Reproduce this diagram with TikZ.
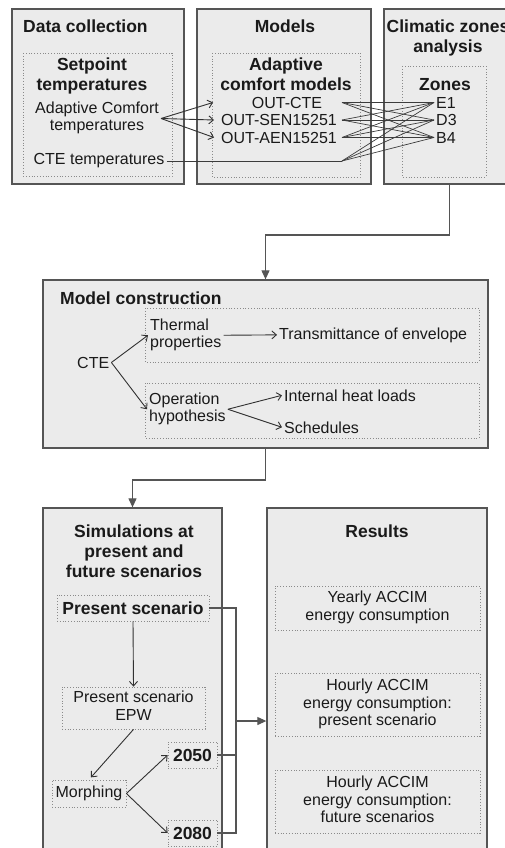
\documentclass[tikz,border=0pt]{standalone}
\usepackage{fontspec}
\setmainfont{Liberation Sans}
\usetikzlibrary{arrows.meta,calc}
\definecolor{boxfill}{HTML}{EBEBEB}
\definecolor{boxline}{HTML}{555555}
\definecolor{dotline}{HTML}{8A8A8A}
\definecolor{ink}{HTML}{1A1A1A}
\newcommand\txtN{\fontsize{16}{17.5}\selectfont}
\newcommand\txtB{\fontsize{17.5}{20}\selectfont\bfseries}
\begin{document}
\begin{tikzpicture}[x=1pt,y=-1pt,
 bigbox/.style={draw=boxline, fill=boxfill, line width=1.3pt, inner sep=0pt},
 dotbox/.style={draw=dotline, line width=0.8pt, dash pattern=on 0.8pt off 2pt},
 tn/.style={font=\txtN, text=ink, inner sep=2pt},
 tb/.style={font=\txtB, text=ink, inner sep=2pt},
 ml/.style={align=center},
 arr/.style={draw=ink!90, line width=0.9pt, -{Straight Barb[length=4.5pt,width=8pt]}},
 cross/.style={draw=ink!85, line width=0.7pt},
 conn/.style={draw=boxline, line width=1.1pt},
 connarr/.style={conn, -{Triangle[length=9pt,width=8pt]}},
]
\useasboundingbox (0,0) rectangle (505,848);
\clip (0,0) rectangle (505,848);

% ---------- big boxes ----------
\node[bigbox, minimum width=172pt, minimum height=175pt] (b1) at (98,96.5) {};
\node[bigbox, minimum width=174pt, minimum height=175pt] (b2) at (284,96.5) {};
\node[bigbox, minimum width=131pt, minimum height=175pt] (b3) at (449.5,96.5) {};
\node[bigbox, minimum width=445pt, minimum height=168pt] (b4) at (265.5,364) {};
\node[bigbox, minimum width=179pt, minimum height=352pt] (b5) at (132.5,684) {};
\node[bigbox, minimum width=220pt, minimum height=352pt] (b6) at (377,684) {};

% ---------- dotted containers ----------
\draw[dotbox] (23,53) rectangle (172,176);
\draw[dotbox] (212,53) rectangle (360,177);
\draw[dotbox] (402,66) rectangle (486,177);
\draw[dotbox] (145,308) rectangle (479,362);
\draw[dotbox] (145,383) rectangle (479,438);

% ---------- top row texts ----------
\node[tb, anchor=base west] (h1) at (21,33) {Data collection};
\node[tb, anchor=base] (h2) at (285,33) {Models};
\node[tb, ml] (h3) at (448,39) {\strut Climatic zones\\\strut analysis};

\node[tb, ml] (setp) at (92,77) {\strut Setpoint\\\strut temperatures};
\node[tn, ml] (act) at (97,118.5) {\strut Adaptive Comfort\\\strut temperatures};
\node[tn] (ctet) at (99,161) {CTE temperatures};

\node[tb, ml] (acm) at (286,77) {\strut Adaptive\\\strut comfort models};
\node[tn] (octe) at (287,102.5) {OUT-CTE};
\node[tn] (osen) at (279,120) {OUT-SEN15251};
\node[tn] (oaen) at (279,137.5) {OUT-AEN15251};

\node[tb, anchor=base] (zones) at (445,91) {Zones};
\node[tn, anchor=west] (zE) at (434,102.5) {E1};
\node[tn, anchor=west] (zD) at (434,120) {D3};
\node[tn, anchor=west] (zB) at (434,137.5) {B4};

% fan from adaptive comfort temperatures
\coordinate (a1) at (213,102.5);
\coordinate (a2) at (214,120);
\coordinate (a3) at (214,137.5);
\draw[arr] (act.east) -- (a1);
\draw[arr] (act.east) -- (a2);
\draw[arr] (act.east) -- (a3);

% crossing lines to zones
\coordinate (k1) at (342,102.5);
\coordinate (k2) at (342,120);
\coordinate (k3) at (342,137.5);
\coordinate (k4) at (342,161);
\draw[cross] (ctet.east) -- (k4);
\foreach \s in {k1,k2,k3,k4}{
  \foreach \t in {zE,zD,zB}{
    \draw[cross] (\s) -- (\t.west);
  }
}

% ---------- model construction ----------
\node[tb, anchor=base west] (h4) at (58,304) {Model construction};
\node[tn, anchor=base west] (cte) at (75,368) {CTE};
\node[tn, anchor=west, align=left] (therm) at (148,335.25) {\strut Thermal\\\strut properties};
\node[tn, anchor=base west] (trans) at (277,339) {Transmittance of envelope};
\node[tn, anchor=west, align=left] (oper) at (147,409.25) {\strut Operation\\\strut hypothesis};
\node[tn, anchor=base west] (ihl) at (282,401) {Internal heat loads};
\node[tn, anchor=base west] (sched) at (282,433) {Schedules};

\draw[arr] (cte.east) -- (therm.west);
\draw[arr] (cte.east) -- (oper.west);
\draw[arr] (therm.east) -- (trans.west);
\draw[arr] (oper.east) -- (ihl.west);
\draw[arr] (oper.east) -- (sched.west);

% ---------- simulations ----------
\node[tb, ml] (h5) at (134,553) {\strut Simulations at\\\strut present and\\\strut future scenarios};
\node[tb, dotbox, minimum width=152pt, minimum height=26pt, inner sep=0pt] (ps) at (133,608) {Present scenario};
\node[tn, ml, dotbox, minimum width=143pt, minimum height=42pt, inner sep=0pt] (epw) at (133.5,708) {\strut Present scenario\\\strut EPW};
\node[tn, dotbox, minimum width=74pt, minimum height=27pt, inner sep=0pt] (morph) at (89,793.5) {Morphing};
\node[tb, dotbox, minimum width=49pt, minimum height=26pt, inner sep=0pt] (y50) at (192.5,755) {2050};
\node[tb, dotbox, minimum width=49pt, minimum height=26pt, inner sep=0pt] (y80) at (192.5,833) {2080};

\draw[arr] (ps.south) -- (epw.north);
\draw[arr, shorten >=3pt] (epw.south) -- (morph.north);
\draw[arr] (morph.east) -- (y50.west);
\draw[arr] (morph.east) -- (y80.west);

% ---------- results ----------
\node[tb, anchor=base] (h6) at (377,537) {Results};
\node[tn, ml, dotbox, minimum width=205pt, minimum height=44pt, inner sep=0pt] (r1) at (377.5,608) {\strut Yearly ACCIM\\\strut energy consumption};
\node[tn, ml, dotbox, minimum width=205pt, minimum height=63pt, inner sep=0pt] (r2) at (377.5,704.5) {\strut Hourly ACCIM\\\strut energy consumption:\\\strut present scenario};
\node[tn, ml, dotbox, minimum width=205pt, minimum height=63pt, inner sep=0pt] (r3) at (377.5,801.5) {\strut Hourly ACCIM\\\strut energy consumption:\\\strut future scenarios};

% ---------- main connectors ----------
\coordinate (j1) at (265.5,235);
\draw[connarr] (b3.south) |- (j1) -- (b4.north);
\coordinate (j2) at (132.5,480);
\draw[connarr] (b4.south) |- (j2) -- (b5.north);

\coordinate (bus) at (236,721);
\draw[conn] (ps.east) -| (bus);
\draw[conn] (y80.east) -| (bus);
\draw[conn] (y50.east) -- (y50.east -| bus);
\draw[connarr] (bus) -- (bus -| b6.west);
\end{tikzpicture}
\end{document}
